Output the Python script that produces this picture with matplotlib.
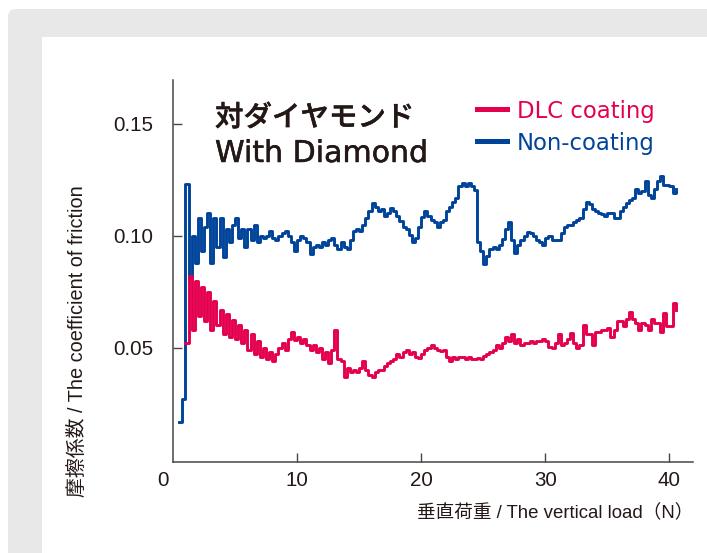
import numpy as np
import matplotlib.pyplot as plt
import matplotlib.patheffects as pe
from matplotlib.patches import FancyBboxPatch, Rectangle
from matplotlib.transforms import ScaledTranslation

# --- data: friction coefficient vs vertical load ---
# Non-coating, sampled every 0.25 N from 0.5 N to 40.5 N
mu_non = [0.017,
          0.027, 0.123, 0.081, 0.100, 0.088, 0.108, 0.093, 0.104, 0.110, 0.088,
          0.108, 0.095, 0.108, 0.0905, 0.103, 0.097, 0.105, 0.108, 0.099, 0.103,
          0.095, 0.103, 0.098, 0.105, 0.097, 0.100, 0.099, 0.100, 0.102, 0.099,
          0.098, 0.100, 0.101, 0.102, 0.100, 0.097, 0.093, 0.098, 0.100, 0.099,
          0.097, 0.092, 0.095, 0.096, 0.095, 0.097, 0.096, 0.098, 0.099, 0.096,
          0.094, 0.097, 0.095, 0.094, 0.098, 0.102, 0.103, 0.102, 0.105, 0.108,
          0.111, 0.1145, 0.113, 0.111, 0.112, 0.109, 0.110, 0.1125, 0.111, 0.109,
          0.1065, 0.104, 0.103, 0.1005, 0.097, 0.099, 0.104, 0.1085, 0.111, 0.109,
          0.107, 0.106, 0.104, 0.106, 0.107, 0.111, 0.113, 0.115, 0.117, 0.122,
          0.1235, 0.122, 0.1235, 0.122, 0.1205, 0.097, 0.093, 0.0875, 0.091, 0.094,
          0.095, 0.094, 0.096, 0.0985, 0.103, 0.106, 0.098, 0.0925, 0.096, 0.098,
          0.100, 0.1017, 0.101, 0.100, 0.098, 0.097, 0.096, 0.099, 0.100, 0.098,
          0.098, 0.098, 0.101, 0.104, 0.105, 0.105, 0.106, 0.107, 0.108, 0.112,
          0.115, 0.114, 0.112, 0.111, 0.110, 0.1095, 0.109, 0.110, 0.110, 0.108,
          0.108, 0.111, 0.113, 0.1145, 0.116, 0.117, 0.121, 0.119, 0.120, 0.1245,
          0.118, 0.117, 0.121, 0.1245, 0.1265, 0.1225, 0.1225, 0.122, 0.119, 0.121]

# DLC coating, sampled every 0.25 N from 1.0 N to 40.5 N
mu_dlc = [0.052, 0.082, 0.058, 0.080, 0.064, 0.077, 0.062, 0.075, 0.058, 0.071,
          0.060, 0.067, 0.056, 0.065, 0.055, 0.0625, 0.054, 0.060, 0.052, 0.058,
          0.049, 0.056, 0.047, 0.053, 0.046, 0.050, 0.045, 0.048, 0.044, 0.047,
          0.050, 0.052, 0.049, 0.054, 0.057, 0.0535, 0.055, 0.052, 0.054, 0.051,
          0.049, 0.051, 0.048, 0.050, 0.045, 0.048, 0.043, 0.049, 0.058, 0.045,
          0.044, 0.037, 0.041, 0.039, 0.040, 0.039, 0.041, 0.044, 0.040, 0.038,
          0.037, 0.039, 0.040, 0.040, 0.042, 0.043, 0.044, 0.045, 0.047, 0.046,
          0.048, 0.049, 0.047, 0.048, 0.046, 0.0455, 0.047, 0.049, 0.050, 0.051,
          0.050, 0.049, 0.0485, 0.049, 0.046, 0.044, 0.046, 0.045, 0.046, 0.046,
          0.045, 0.046, 0.045, 0.045, 0.0455, 0.045, 0.0465, 0.047, 0.048, 0.049,
          0.051, 0.050, 0.052, 0.055, 0.053, 0.056, 0.052, 0.054, 0.051, 0.052,
          0.052, 0.053, 0.052, 0.053, 0.053, 0.054, 0.053, 0.0505, 0.050, 0.052,
          0.056, 0.051, 0.052, 0.054, 0.0565, 0.052, 0.050, 0.051, 0.060, 0.056,
          0.056, 0.051, 0.057, 0.057, 0.058, 0.058, 0.059, 0.055, 0.058, 0.062,
          0.062, 0.0595, 0.063, 0.066, 0.063, 0.061, 0.058, 0.061, 0.060, 0.058,
          0.063, 0.061, 0.061, 0.057, 0.0655, 0.0595, 0.0595, 0.070, 0.067]

load_non = np.linspace(0.5, 40.5, len(mu_non))
load_dlc = np.linspace(1.0, 40.5, len(mu_dlc))

x_ticks = [0, 10, 20, 30, 40]
y_ticks = [0.05, 0.10, 0.15]
y_labels = ["0.05", "0.10", "0.15"]

RED = "#e4004f"
BLUE = "#00439a"
INK = "#231815"
AXC = "#4a4545"
LABEL_FONT = ["Liberation Sans", "Noto Sans CJK JP"]

fig = plt.figure(figsize=(7.07, 5.53), dpi=100)
fig.patch.set_facecolor("white")

# grey frame with the white panel on top (kept behind the axes)
fig.patches.append(FancyBboxPatch((0.08, -0.5), 8, 5.94,
                                  boxstyle="round,pad=0,rounding_size=0.08",
                                  transform=fig.dpi_scale_trans,
                                  facecolor="#e8e8e8", edgecolor="none", zorder=-10))
fig.patches.append(Rectangle((0.42, -0.5), 8, 5.66, transform=fig.dpi_scale_trans,
                             facecolor="white", edgecolor="none", zorder=-9))

ax = fig.add_axes([173 / 707, 91 / 553, 520 / 707, 382 / 553])
ax.set_facecolor("none")

ax.plot(load_non, mu_non, drawstyle="steps-post", color=BLUE, lw=2.1, zorder=3)
ax.plot(load_dlc, mu_dlc, drawstyle="steps-post", color=RED, lw=2.1, zorder=4)

ax.set_xlim(0, 41.9)
ax.set_ylim(-0.001, 0.1695)

for side in ["top", "right"]:
    ax.spines[side].set_visible(False)
for side in ["left", "bottom"]:
    ax.spines[side].set_color(AXC)
    ax.spines[side].set_linewidth(1.1)

ax.set_xticks(x_ticks)
ax.set_xticklabels([str(t) for t in x_ticks])
ax.set_yticks(y_ticks)
ax.set_yticklabels(y_labels)
ax.tick_params(direction="in", length=6.5, width=1.0, color=AXC,
               labelsize=14.8, labelcolor=INK)
ax.tick_params(axis="x", pad=6.5)
ax.tick_params(axis="y", pad=14)
for lab in ax.get_xticklabels() + ax.get_yticklabels():
    lab.set_family("Liberation Sans")
# the "0" sits a little left of the corner
ax.get_xticklabels()[0].set_transform(
    ax.get_xticklabels()[0].get_transform() + ScaledTranslation(-0.10, 0, fig.dpi_scale_trans))
ax.xaxis.get_major_ticks()[0].tick1line.set_visible(False)

# axis titles
fig.text(77 / 707, 1 - 341 / 553, "摩擦係数 / The coefficient of friction",
         rotation=90, ha="center", va="center", fontsize=14.3, color=INK,
         family=LABEL_FONT)
fig.text(693 / 707, 1 - 513 / 553, "垂直荷重 / The vertical load（N）",
         ha="right", va="center", fontsize=13.4, color=INK, family=LABEL_FONT)

# chart title inside the plot
thick = [pe.withStroke(linewidth=0.35, foreground=INK)]
fig.text(215 / 707, 1 - 126 / 553, "対ダイヤモンド", ha="left", va="baseline",
         fontsize=20.5, color=INK, family=["DejaVu Sans", "Noto Sans CJK JP"],
         weight="medium", path_effects=thick)
fig.text(215 / 707, 1 - 162 / 553, "With Diamond", ha="left", va="baseline",
         fontsize=21.6, color=INK, family="DejaVu Sans", path_effects=thick)

# hand-made legend
for yy, name, col in [(109, "DLC coating", RED), (141, "Non-coating", BLUE)]:
    fig.add_artist(plt.Line2D([477 / 707, 507 / 707], [1 - yy / 553, 1 - yy / 553],
                              color=col, lw=3.6, transform=fig.transFigure))
    fig.text(517 / 707, 1 - (yy + 9) / 553, name, ha="left", va="baseline",
             fontsize=16.4, color=col, family="DejaVu Sans")

fig.savefig("out.png", dpi=100)
